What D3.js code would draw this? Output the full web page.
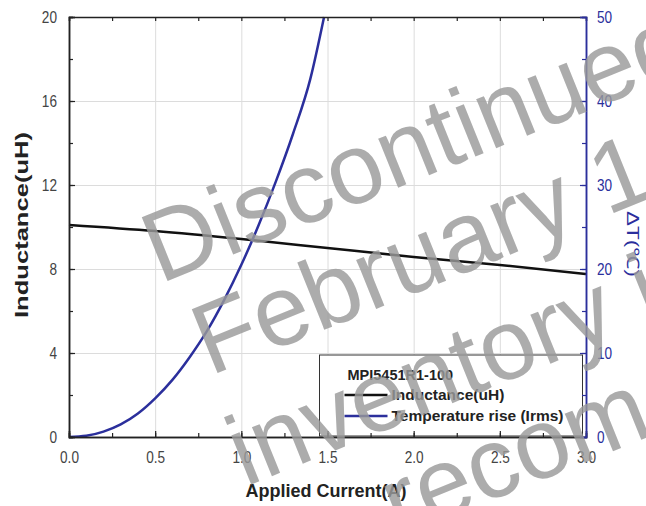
<!DOCTYPE html>
<html>
<head>
<meta charset="utf-8">
<script src="https://cdn.jsdelivr.net/npm/d3@7"></script>
<style>
  body { margin: 0; background: #fff; }
  svg { display: block; font-family: "Liberation Sans", Arial, sans-serif; }
</style>
</head>
<body>
<svg width="646" height="506"></svg>
<script>
// inductance curve
var indCurrent = [0, 0.5, 1.0, 1.5, 2.0, 2.5, 3.0];
var inductance = [10.1, 9.81, 9.43, 9.0, 8.57, 8.19, 7.76];

// temperature rise curve (right axis)
var tempCurrent = [0, 0.1, 0.2, 0.3, 0.4, 0.5, 0.6, 0.7, 0.8, 0.9, 1.0, 1.1, 1.2, 1.3, 1.4, 1.48];
var tempRise = [0, 0.14, 0.64, 1.5, 2.8, 4.6, 6.8, 9.5, 12.6, 16.3, 20.5, 25.2, 30.4, 36.1, 42.6, 50];

var xTicks = [0, 0.5, 1.0, 1.5, 2.0, 2.5, 3.0];
var yLeftTicks = [0, 4, 8, 12, 16, 20];
var yRightTicks = [0, 10, 20, 30, 40, 50];

var legendTitle = "MPI5451R1-100";
var seriesNames = ["Inductance(uH)", "Temperature rise (Irms)"];
var watermark = ["Discontinued", "February 1", "inventory i", "recom"];

var blue = "#2b2f9c";

var svg = d3.select("svg");
var margin = { top: 17, right: 60, bottom: 69, left: 69 };
var plotWidth = 646 - margin.left - margin.right;
var plotHeight = 506 - margin.top - margin.bottom;

var x = d3.scaleLinear().domain([0, 3]).range([0, plotWidth]);
var yL = d3.scaleLinear().domain([0, 20]).range([plotHeight, 0]);
var yR = d3.scaleLinear().domain([0, 50]).range([plotHeight, 0]);

// narrow a text horizontally, the scan looks squeezed
function squash(sel, k) {
  sel.each(function() {
    var w = this.getComputedTextLength();
    d3.select(this).attr("textLength", w * k).attr("lengthAdjust", "spacingAndGlyphs");
  });
}

var plot = svg.append("g")
  .attr("transform", "translate(" + margin.left + "," + margin.top + ")");

// grid
plot.append("g")
  .call(d3.axisBottom(x).tickValues(xTicks).tickSize(plotHeight).tickFormat(""))
  .call(function(g) { g.select(".domain").remove(); })
  .selectAll("line").attr("stroke", "#dcdcdc");
plot.append("g")
  .call(d3.axisLeft(yL).tickValues(yLeftTicks).tickSize(-plotWidth).tickFormat(""))
  .call(function(g) { g.select(".domain").remove(); })
  .selectAll("line").attr("stroke", "#dcdcdc");

// lines
var indData = indCurrent.map(function(d, i) { return [d, inductance[i]]; });
var tempData = tempCurrent.map(function(d, i) { return [d, tempRise[i]]; });

plot.append("path")
  .datum(indData)
  .attr("fill", "none")
  .attr("stroke", "#111")
  .attr("stroke-width", 2.5)
  .attr("d", d3.line().x(function(d) { return x(d[0]); }).y(function(d) { return yL(d[1]); }).curve(d3.curveMonotoneX));

plot.append("path")
  .datum(tempData)
  .attr("fill", "none")
  .attr("stroke", blue)
  .attr("stroke-width", 2.5)
  .attr("d", d3.line().x(function(d) { return x(d[0]); }).y(function(d) { return yR(d[1]); }).curve(d3.curveMonotoneX));

// legend
var lg = plot.append("g").attr("transform", "translate(" + (x(1.5) - 8) + "," + (plotHeight - 82) + ")");
lg.append("rect").attr("width", 263).attr("height", 81)
  .attr("fill", "#fff").attr("stroke", "#333").attr("stroke-width", 1);
lg.append("text").attr("x", 28).attr("y", 25)
  .style("font-size", "14.5px").style("font-weight", "bold").attr("fill", "#222")
  .text(legendTitle);
[["#111", 0], [blue, 1]].forEach(function(s) {
  var yy = 40 + s[1] * 21;
  lg.append("line").attr("x1", 25).attr("x2", 68).attr("y1", yy).attr("y2", yy)
    .attr("stroke", s[0]).attr("stroke-width", 2.5);
  lg.append("text").attr("x", 72).attr("y", yy + 5)
    .style("font-size", "15.5px").style("font-weight", "bold").attr("fill", "#222")
    .text(seriesNames[s[1]]);
});

// axes
function styleAxis(g, col) {
  g.select(".domain").attr("stroke", col).attr("stroke-width", 1.5);
  g.selectAll("line").attr("stroke", col).attr("stroke-width", 1.2);
  g.selectAll("text").style("font-size", "17px").attr("fill", col === blue ? blue : "#444")
    .call(squash, 0.8);
}

var minorX = d3.range(0, 3.01, 0.25);
plot.append("g").attr("transform", "translate(0," + plotHeight + ")")
  .call(d3.axisBottom(x).tickValues(minorX).tickSize(-4).tickFormat(""))
  .call(function(g) { styleAxis(g, "#222"); });
plot.append("g").attr("transform", "translate(0," + plotHeight + ")")
  .call(d3.axisBottom(x).tickValues(xTicks).tickSize(-6).tickPadding(14).tickFormat(d3.format(".1f")))
  .call(function(g) { styleAxis(g, "#222"); });
plot.append("g")
  .call(d3.axisTop(x).tickValues(minorX).tickSize(-4).tickFormat(""))
  .call(function(g) { styleAxis(g, "#222"); });

plot.append("g")
  .call(d3.axisLeft(yL).tickValues(d3.range(0, 20.1, 2)).tickSize(-4).tickFormat(""))
  .call(function(g) { styleAxis(g, "#222"); });
plot.append("g")
  .call(d3.axisLeft(yL).tickValues(yLeftTicks).tickSize(-6).tickPadding(12).tickFormat(d3.format("d")))
  .call(function(g) { styleAxis(g, "#222"); });

plot.append("g").attr("transform", "translate(" + plotWidth + ",0)")
  .call(d3.axisRight(yR).tickValues(d3.range(0, 50.1, 5)).tickSize(-4).tickFormat(""))
  .call(function(g) { styleAxis(g, blue); });
plot.append("g").attr("transform", "translate(" + plotWidth + ",0)")
  .call(d3.axisRight(yR).tickValues(yRightTicks).tickSize(-6).tickPadding(11).tickFormat(d3.format("d")))
  .call(function(g) { styleAxis(g, blue); });

// axis titles
svg.append("text")
  .attr("transform", "translate(28," + (margin.top + 208) + ") rotate(-90)")
  .style("text-anchor", "middle").style("font-size", "18px").style("font-weight", "bold")
  .attr("fill", "#222").text("Inductance(uH)")
  .call(function(t) {
    t.attr("textLength", 186).attr("lengthAdjust", "spacingAndGlyphs");
  });
svg.append("text")
  .attr("x", 326).attr("y", 497)
  .style("text-anchor", "middle").style("font-size", "18px").style("font-weight", "bold")
  .attr("fill", "#222").text("Applied Current(A)");
svg.append("text")
  .attr("transform", "translate(627,244) rotate(90)")
  .style("text-anchor", "middle").style("font-size", "17px")
  .attr("fill", blue).text("\u0394T(\u2103)")
  .call(function(t) {
    t.attr("textLength", 66).attr("lengthAdjust", "spacingAndGlyphs");
  });

// watermark
var wm = svg.append("g").attr("fill", "#9a9a9a").attr("fill-opacity", 0.82)
  .style("font-size", "100px");
var wmPos = [[160, 284], [210, 376], [245, 487], [398, 538]];
watermark.forEach(function(t, i) {
  wm.append("text")
    .attr("transform", "translate(" + wmPos[i][0] + "," + wmPos[i][1] + ") rotate(-22)")
    .text(t);
});
</script>
</body>
</html>
